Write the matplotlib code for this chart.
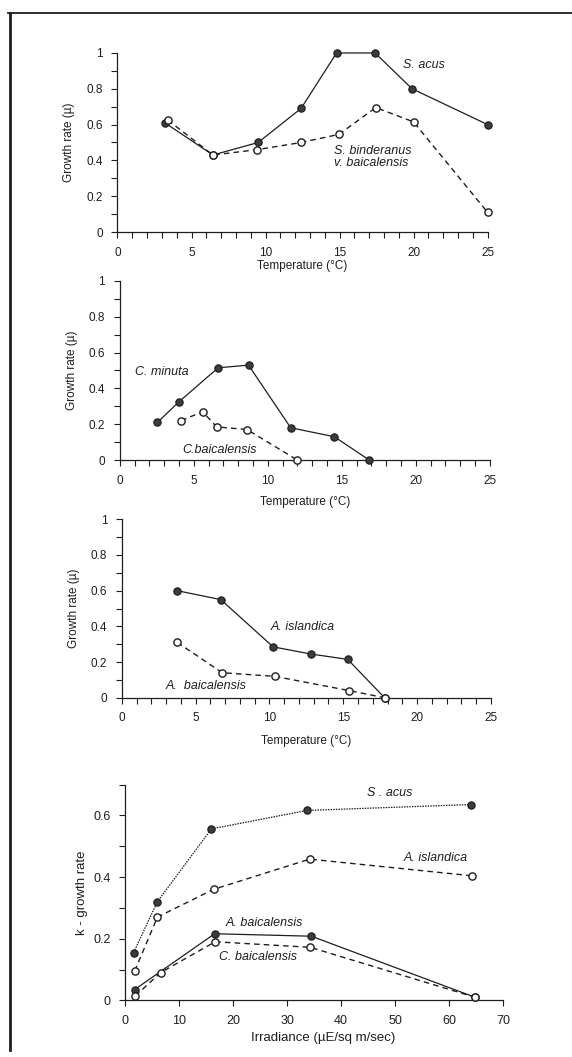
import matplotlib
matplotlib.use('Agg')
import matplotlib.pyplot as plt
from matplotlib.lines import Line2D

plt.rcParams['font.family'] = ['Liberation Sans', 'DejaVu Sans']

# panel 1: S. acus / S. binderanus v. baicalensis vs temperature
temp_sacus = [3.2, 6.45, 9.5, 12.4, 14.8, 17.4, 19.9, 25.0]
rate_sacus = [0.61, 0.43, 0.50, 0.69, 1.0, 1.0, 0.80, 0.60]
temp_sbind = [3.4, 6.45, 9.45, 12.4, 14.95, 17.45, 20.0, 25.0]
rate_sbind = [0.625, 0.43, 0.46, 0.50, 0.545, 0.695, 0.615, 0.11]

# panel 2: C. minuta / C. baicalensis
temp_cmin = [2.55, 4.0, 6.65, 8.7, 11.55, 14.5, 16.85]
rate_cmin = [0.21, 0.325, 0.515, 0.53, 0.18, 0.13, 0.0]
temp_cbaic = [4.15, 5.6, 6.55, 8.6, 12.0]
rate_cbaic = [0.22, 0.27, 0.185, 0.17, 0.0]

# panel 3: A. islandica / A. baicalensis
temp_aisl = [3.75, 6.7, 10.25, 12.8, 15.3, 17.8]
rate_aisl = [0.60, 0.55, 0.285, 0.245, 0.215, 0.0]
temp_abaic = [3.75, 6.8, 10.35, 15.4, 17.8]
rate_abaic = [0.31, 0.14, 0.12, 0.04, 0.0]

# panel 4: k vs irradiance
irr_sacus = [1.6, 6.0, 16.0, 33.7, 64.0]
k_sacus = [0.155, 0.32, 0.556, 0.616, 0.635]
irr_aisl = [1.8, 6.0, 16.4, 34.2, 64.2]
k_aisl = [0.095, 0.27, 0.36, 0.458, 0.404]
irr_abaic = [1.8, 16.6, 34.5, 64.8]
k_abaic = [0.035, 0.216, 0.208, 0.01]
irr_cbaic = [1.9, 6.6, 16.7, 34.3, 64.8]
k_cbaic = [0.014, 0.09, 0.19, 0.172, 0.01]

temp_ticks = [0, 5, 10, 15, 20, 25]
rate_ticks = [0, 0.2, 0.4, 0.6, 0.8, 1.0]
rate_ticklabels = ['0', '0.2', '0.4', '0.6', '0.8', '1']
irr_ticks = [0, 10, 20, 30, 40, 50, 60, 70]
k_ticks = [0, 0.2, 0.4, 0.6]
k_ticklabels = ['0', '0.2', '0.4', '0.6']

INK = '#1e1e1e'
FILL = '#3c3c3c'

fig = plt.figure(figsize=(5.72, 10.57), dpi=100)

# page frame (scanned figure border)
fig.add_artist(Line2D([8 / 572, 1.0], [1 - 13 / 1057] * 2, transform=fig.transFigure,
                      color=INK, lw=1.3))
fig.add_artist(Line2D([10 / 572] * 2, [1 - 13 / 1057, 1 - 1050 / 1057], transform=fig.transFigure,
                      color=INK, lw=2.0))


def filled(ax, x, y, ls='-', lw=0.9):
    ax.plot(x, y, color=INK, lw=lw, ls=ls, marker='o', ms=5.2,
            mfc=FILL, mec=INK, mew=0.9, clip_on=False, zorder=3)


def opened(ax, x, y):
    ax.plot(x, y, color=INK, lw=1.0, ls=(0, (4, 3)), marker='o', ms=5.2,
            mfc='white', mec=INK, mew=1.0, clip_on=False, zorder=4)


def style_temp(ax, xlab_y, ylab_x):
    for s in ['top', 'right']:
        ax.spines[s].set_visible(False)
    for s in ['left', 'bottom']:
        ax.spines[s].set_color(INK)
        ax.spines[s].set_linewidth(0.9)
    ax.set_xlim(0, 25)
    ax.set_ylim(0, 1)
    ax.set_xticks(temp_ticks)
    ax.set_xticks(range(0, 26), minor=True)
    ax.set_yticks(rate_ticks)
    ax.set_yticklabels(rate_ticklabels)
    ax.set_yticks([0.1, 0.3, 0.5, 0.7, 0.9], minor=True)
    ax.tick_params(which='both', direction='out', colors=INK, width=0.8,
                   labelsize=8.5, pad=6)
    ax.tick_params(which='major', length=4.5)
    ax.tick_params(which='minor', length=4)
    ax.set_xlabel('Temperature (°C)', fontsize=8.5, color=INK)
    ax.set_ylabel('Growth rate (µ)', fontsize=8.5, color=INK)
    ax.xaxis.set_label_coords(0.5, xlab_y)
    ax.xaxis.label.set_verticalalignment('center')
    ax.yaxis.set_label_coords(ylab_x, 0.5)
    ax.yaxis.label.set_verticalalignment('center')


lab = dict(fontsize=9, style='italic', color=INK, ha='left', va='center')

# panel 1
ax1 = fig.add_axes([0.2054, 0.7805, 0.647, 0.1694])
filled(ax1, temp_sacus, rate_sacus)
opened(ax1, temp_sbind, rate_sbind)
ax1.text(19.3, 0.935, 'S. acus', **lab)
ax1.text(14.6, 0.42, 'S. binderanus\nv. baicalensis', linespacing=1.0, **lab)
style_temp(ax1, -0.19, -0.131)

# panel 2
ax2 = fig.add_axes([0.2093, 0.5648, 0.647, 0.1694])
filled(ax2, temp_cmin, rate_cmin)
opened(ax2, temp_cbaic, rate_cbaic)
ax2.text(1.04, 0.49, 'C. minuta', **lab)
ax2.text(4.24, 0.058, 'C.baicalensis', **lab)
style_temp(ax2, -0.233, -0.129)

# panel 3
ax3 = fig.add_axes([0.2131, 0.3399, 0.645, 0.1688])
filled(ax3, temp_aisl, rate_aisl)
opened(ax3, temp_abaic, rate_abaic)
ax3.text(10.08, 0.394, 'A. islandica', **lab)
ax3.text(2.99, 0.065, 'A.  baicalensis', **lab)
style_temp(ax3, -0.241, -0.13)

# panel 4
ax4 = fig.add_axes([0.2185, 0.0536, 0.661, 0.2042])
filled(ax4, irr_sacus, k_sacus, ls=(0, (1.2, 0.9)), lw=0.9)
opened(ax4, irr_aisl, k_aisl)
filled(ax4, irr_abaic, k_abaic)
opened(ax4, irr_cbaic, k_cbaic)
for s in ['top', 'right']:
    ax4.spines[s].set_visible(False)
for s in ['left', 'bottom']:
    ax4.spines[s].set_color(INK)
    ax4.spines[s].set_linewidth(0.9)
ax4.set_xlim(0, 70)
ax4.set_ylim(0, 0.7)
ax4.set_xticks(irr_ticks)
ax4.set_yticks(k_ticks)
ax4.set_yticklabels(k_ticklabels)
ax4.set_yticks([0.1, 0.3, 0.5, 0.7], minor=True)
ax4.tick_params(which='both', direction='out', colors=INK, width=0.8,
                labelsize=9, pad=6)
ax4.tick_params(which='major', length=4.5)
ax4.tick_params(which='minor', length=4)
ax4.text(44.8, 0.671, 'S . acus', **lab)
ax4.text(51.5, 0.463, 'A. islandica', **lab)
ax4.text(18.7, 0.25, 'A. baicalensis', **lab)
ax4.text(17.4, 0.14, 'C. baicalensis', **lab)
ax4.set_xlabel('Irradiance (µE/sq m/sec)', fontsize=9.5, color=INK)
ax4.set_ylabel('k - growth rate', fontsize=9.5, color=INK)
ax4.xaxis.set_label_coords(0.524, -0.175)
ax4.xaxis.label.set_verticalalignment('center')
ax4.yaxis.set_label_coords(-0.114, 0.5)
ax4.yaxis.label.set_verticalalignment('center')

fig.savefig('out.png', dpi=100)
